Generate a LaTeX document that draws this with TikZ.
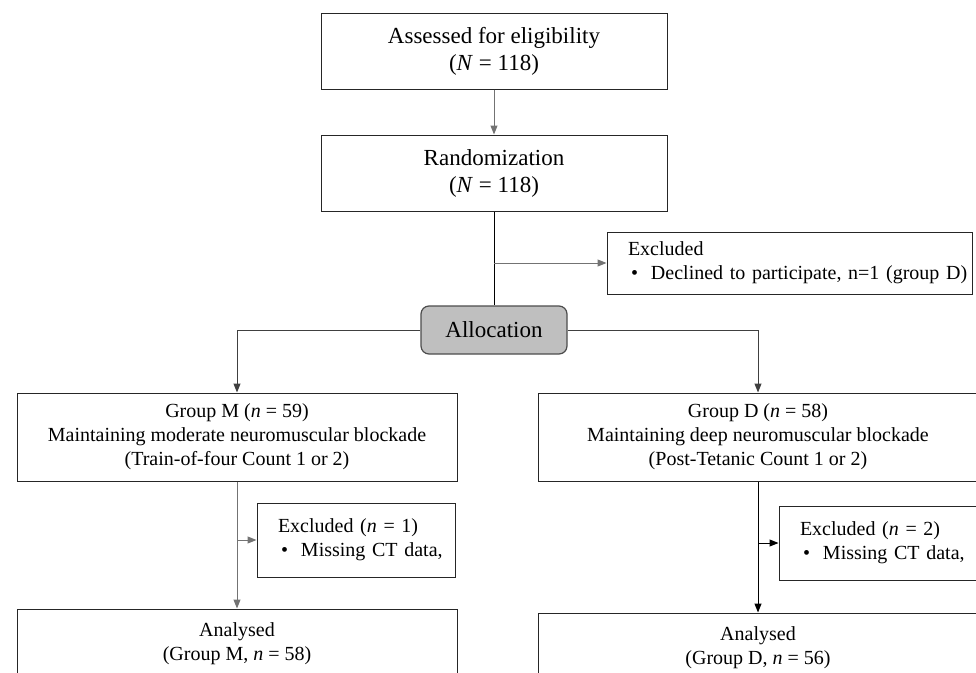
\documentclass[tikz,border=0pt]{standalone}
\usepackage{fontspec}
\setmainfont{Liberation Serif}
\usetikzlibrary{arrows.meta,positioning}
\tikzset{
  bigbox/.style={draw=black!85, line width=1pt, minimum width=346pt, minimum height=76pt, align=center, inner sep=0pt, font=\fontsize{23}{27}\selectfont},
  grpbox/.style={draw=black!85, line width=1pt, minimum width=440pt, minimum height=88pt, align=center, inner sep=0pt, font=\fontsize{20}{24}\selectfont},
  anbox/.style={draw=black!85, line width=1pt, minimum width=440pt, minimum height=70pt, align=center, inner sep=0pt, font=\fontsize{20}{24}\selectfont},
  exbox/.style={draw=black!85, line width=1pt, align=left, inner xsep=0pt, inner ysep=0pt, font=\fontsize{20}{24}\selectfont},
  allocbox/.style={draw=black!70, line width=1.2pt, fill=black!25, rounded corners=8pt, minimum width=146pt, minimum height=48pt, inner sep=0pt, font=\fontsize{23}{27}\selectfont},
  conn/.style={line width=1pt, draw=black},
  grayconn/.style={line width=1pt, draw=black!55},
  arr/.style={-{Triangle[length=9pt,width=7pt]}},
}
\newcommand{\ind}{\hspace*{21pt}}
\newcommand{\bul}{\hspace*{24pt}\makebox[20pt][l]{\textbullet}}
\begin{document}
\begin{tikzpicture}[x=1pt,y=-1pt]
\useasboundingbox (0,0) rectangle (976,672);
\node[bigbox] (assess) at (494,51) {Assessed for eligibility\\(\textit{N} = 118)};
\node[bigbox] (rand) at (494,173) {Randomization\\(\textit{N} = 118)};
\node[exbox, text width=365pt, minimum height=62pt] (excl) at (789.5,263) {\ind Excluded\\\bul Declined to participate, n=1 (group D)};
\node[allocbox] (alloc) at (494,330) {Allocation};
\node[grpbox] (gM) at (237,437) {Group M (\textit{n} = 59)\\Maintaining moderate neuromuscular blockade\\(Train-of-four Count 1 or 2)};
\node[grpbox] (gD) at (758,437) {Group D (\textit{n} = 58)\\Maintaining deep neuromuscular blockade\\(Post-Tetanic Count 1 or 2)};
\node[exbox, text width=198pt, minimum height=74pt] (exM) at (356,540) {\ind Excluded (\textit{n} = 1)\\\bul Missing CT data,};
\node[exbox, text width=198pt, minimum height=74pt] (exD) at (878,543) {\ind Excluded (\textit{n} = 2)\\\bul Missing CT data,};
\node[anbox] (aM) at (237,644) {Analysed\\(Group M, \textit{n} = 58)};
\node[anbox] (aD) at (758,648) {Analysed\\(Group D, \textit{n} = 56)};

\draw[grayconn, arr] (assess.south) -- (rand.north);
\draw[conn] (rand.south) -- (alloc.north);
\draw[grayconn, arr] (rand.south |- excl.west) -- (excl.west);
\draw[grayconn, draw=black!75, arr] (alloc.west) -| (gM.north);
\draw[grayconn, draw=black!75, arr] (alloc.east) -| (gD.north);
\draw[grayconn, arr] (gM.south) -- (aM.north);
\draw[grayconn, arr] (gM.south |- exM.west) -- (exM.west);
\draw[conn, arr] (gD.south) -- (aD.north);
\draw[conn, arr] (gD.south |- exD.west) -- (exD.west);
\end{tikzpicture}
\end{document}
